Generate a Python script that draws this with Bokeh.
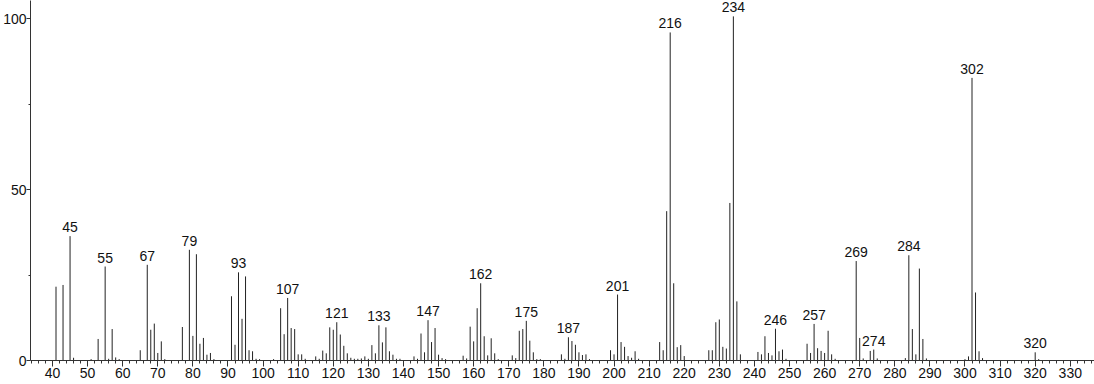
from bokeh.plotting import figure
from bokeh.models import ColumnDataSource, FixedTicker, Range1d
from bokeh.core.properties import value
from bokeh.embed import file_html
from bokeh.resources import INLINE

mz = [41, 43, 45, 46, 51, 53, 55, 56, 57, 58, 59, 65, 67, 68, 69, 70, 71, 72, 77, 79,
      80, 81, 82, 83, 84, 85, 86, 91, 92, 93, 94, 95, 96, 97, 98, 99, 103, 105, 106, 107,
      108, 109, 110, 111, 112, 115, 116, 117, 118, 119, 120, 121, 122, 123, 124, 125, 126,
      127, 128, 129, 130, 131, 132, 133, 134, 135, 136, 137, 138, 139, 143, 144, 145, 146,
      147, 148, 149, 150, 151, 152, 157, 158, 159, 160, 161, 162, 163, 164, 165, 166, 167,
      171, 172, 173, 174, 175, 176, 177, 178, 179, 185, 186, 187, 188, 189, 190, 191, 192,
      193, 199, 200, 201, 202, 203, 204, 205, 206, 207, 213, 214, 215, 216, 217, 218, 219,
      220, 227, 228, 229, 230, 231, 232, 233, 234, 235, 236, 241, 242, 243, 244, 245, 246,
      247, 248, 249, 255, 256, 257, 258, 259, 260, 261, 262, 263, 269, 270, 271, 273, 274,
      275, 283, 284, 285, 286, 287, 288, 289, 300, 301, 302, 303, 304, 305, 320, 321]
intensity = [21.6, 22.1, 36.4, 0.8, 0.4, 6.3, 27.5, 0.5, 9.2, 0.9, 0.4, 3.0, 28.0, 9.0, 10.8,
             2.2, 5.6, 0.4, 9.8, 32.4, 7.2, 31.1, 4.9, 6.6, 1.7, 2.2, 0.4, 18.8, 4.6, 25.8,
             12.2, 24.6, 3.0, 2.7, 0.5, 0.4, 0.4, 15.3, 7.7, 18.3, 9.5, 9.2, 1.8, 1.8, 0.5,
             1.2, 0.5, 2.9, 2.1, 9.7, 9.0, 11.2, 7.6, 4.3, 2.1, 0.8, 0.5, 0.5, 0.6, 1.2, 0.5,
             4.5, 2.1, 10.3, 5.3, 9.7, 2.7, 1.7, 0.5, 0.5, 1.2, 0.5, 7.9, 2.4, 11.8, 5.4, 9.5,
             1.7, 0.7, 0.4, 1.4, 0.6, 9.9, 5.6, 15.3, 22.6, 7.1, 1.5, 6.5, 2.1, 0.4, 1.5, 0.7,
             8.7, 9.2, 11.6, 5.8, 2.4, 0.4, 0.4, 1.8, 0.5, 6.8, 5.7, 4.6, 2.4, 1.6, 1.8, 0.4,
             3.0, 1.8, 19.3, 5.4, 4.0, 1.3, 0.8, 2.7, 0.5, 5.4, 3.0, 43.7, 96.0, 22.6, 3.9,
             4.5, 1.3, 3.0, 3.0, 11.2, 12.0, 4.0, 3.5, 46.1, 100.7, 17.3, 1.8, 2.5, 1.8, 7.1,
             2.2, 1.5, 9.3, 2.7, 3.2, 0.5, 4.9, 2.2, 10.7, 3.6, 2.8, 2.2, 8.7, 1.8, 0.5, 29.1,
             6.6, 0.6, 2.8, 3.2, 0.6, 0.7, 30.8, 9.2, 1.8, 26.9, 6.3, 0.6, 0.4, 1.2, 82.7,
             19.9, 2.7, 0.7, 2.4, 0.4]
label_mz = [45, 55, 67, 79, 93, 107, 121, 133, 147, 162, 175, 187, 201, 216, 234, 246, 257,
            269, 274, 284, 302, 320]
x_ticks = list(range(40, 331, 10))
y_ticks = [0, 50, 100]

lookup = dict(zip(mz, intensity))
bars = ColumnDataSource(dict(mz=mz, zero=[0] * len(mz), inten=intensity))
labels = ColumnDataSource(dict(x=label_mz, y=[lookup[m] for m in label_mz],
                               t=[str(m) for m in label_mz]))

p = figure(width=1094, height=384, output_backend="svg", toolbar_location=None,
           x_range=Range1d(33.73, 336.9), y_range=Range1d(0, 105.35),
           min_border_left=30, min_border_right=0, min_border_top=0, min_border_bottom=24)
p.outline_line_color = None
p.xgrid.visible = False
p.ygrid.visible = False
p.background_fill_color = "white"
p.border_fill_color = "white"

p.segment(x0="mz", y0="zero", x1="mz", y1="inten", source=bars,
          line_color="#222222", line_width=1)
p.text(x="x", y="y", text="t", source=labels, text_align="center",
       text_baseline="bottom", y_offset=-4, text_font=value("Liberation Sans"),
       text_font_size="14px", text_color="#111111")

for ax in (p.xaxis[0], p.yaxis[0]):
    ax.axis_line_color = "#333333"
    ax.major_tick_line_color = "#333333"
    ax.minor_tick_line_color = "#333333"
    ax.major_label_text_font = "Liberation Sans"
    ax.major_label_text_font_size = "14px"
    ax.major_label_text_color = "#111111"
    ax.major_tick_in = 0
    ax.minor_tick_in = 0

p.xaxis.ticker = FixedTicker(ticks=x_ticks, minor_ticks=list(range(34, 337, 2)))
p.xaxis.major_tick_out = 6
p.xaxis.minor_tick_out = 3
p.xaxis.major_label_standoff = 1

p.yaxis.ticker = FixedTicker(ticks=y_ticks, minor_ticks=[25, 75])
p.yaxis.major_tick_out = 4
p.yaxis.minor_tick_out = 2
p.yaxis.major_label_standoff = 0

open("out.html", "w").write(file_html(p, INLINE))
